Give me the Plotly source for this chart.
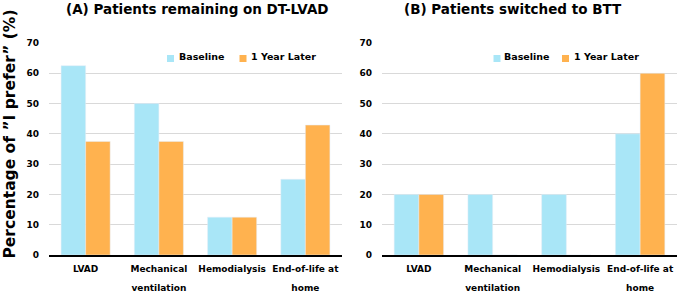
import plotly.graph_objects as go

categories = ["LVAD", "Mechanical ventilation", "Hemodialysis", "End-of-life at home"]
tick_lines = [["LVAD"], ["Mechanical", "ventilation"], ["Hemodialysis"], ["End-of-life at", "home"]]
a_baseline = [62.5, 50.0, 12.5, 25.0]
a_later = [37.5, 37.5, 12.5, 42.9]
b_baseline = [20.0, 20.0, 20.0, 40.0]
b_later = [20.0, 0.0, 0.0, 60.0]
y_ticks = [0, 10, 20, 30, 40, 50, 60, 70]
series_names = ["Baseline", "1 Year Later"]

BLUE = "#A9E6F7"
ORANGE = "#FFB24F"
W, H = 677, 291
FONT = "DejaVu Sans"

# tick labels: small text, but line spacing driven by a larger base font size
tick_labels = ["<br>".join('<span style="font-size:9px">%s</span>' % s for s in lines)
               for lines in tick_lines]

fig = go.Figure()
fig.add_trace(go.Bar(x=categories, y=a_baseline, name=series_names[0], marker_color=BLUE,
                     xaxis="x", yaxis="y"))
fig.add_trace(go.Bar(x=categories, y=a_later, name=series_names[1], marker_color=ORANGE,
                     xaxis="x", yaxis="y"))
fig.add_trace(go.Bar(x=categories, y=b_baseline, name=series_names[0], marker_color=BLUE,
                     xaxis="x2", yaxis="y2"))
fig.add_trace(go.Bar(x=categories, y=b_later, name=series_names[1], marker_color=ORANGE,
                     xaxis="x2", yaxis="y2"))

ydom = [36 / H, 248 / H]
xa = dict(tickmode="array", tickvals=categories, ticktext=tick_labels,
          tickfont=dict(family=FONT, size=14.6, color="black", weight="bold"),
          showline=True, linecolor="black", linewidth=2, ticks="", showgrid=False,
          ticklabelstandoff=-3, fixedrange=True, automargin=False, tickangle=0)
ya = dict(range=[0, 70], tickvals=y_ticks, showgrid=True, gridcolor="#D9D9D9", gridwidth=1,
          zeroline=False, showline=False, ticks="", automargin=False,
          tickfont=dict(family=FONT, size=9, color="black", weight="bold"),
          ticklabelstandoff=9, domain=ydom)

legfont = dict(family=FONT, size=9.5, color="black", weight="bold")

# manual legends (swatch + label) inside each panel
shapes = []
annotations = []
for sx, tx, color, name in [(167, 178, BLUE, series_names[0]), (239.5, 250, ORANGE, series_names[1]),
                            (493.5, 503, BLUE, series_names[0]), (562, 572.5, ORANGE, series_names[1])]:
    shapes.append(dict(type="rect", xref="paper", yref="paper",
                       x0=sx / W, x1=(sx + 7) / W, y0=(H - 62) / H, y1=(H - 55) / H,
                       fillcolor=color, line=dict(width=0)))
    annotations.append(dict(text=name, x=tx / W, y=(H - 57) / H, xref="paper", yref="paper",
                            showarrow=False, xanchor="left", yanchor="middle", font=legfont,
                            borderpad=0))

annotations += [
    dict(text="(A) Patients remaining on DT-LVAD", x=197 / W, y=(H - 9) / H,
         xref="paper", yref="paper", showarrow=False, xanchor="center", yanchor="middle",
         font=dict(family=FONT, size=13.5, color="black", weight="bold")),
    dict(text="(B) Patients switched to BTT", x=513 / W, y=(H - 9) / H,
         xref="paper", yref="paper", showarrow=False, xanchor="center", yanchor="middle",
         font=dict(family=FONT, size=13.5, color="black", weight="bold")),
    dict(text="Percentage of \u201dI prefer\u201d (%)", x=9 / W, y=(H - 134.5) / H,
         xref="paper", yref="paper", showarrow=False, xanchor="center", yanchor="middle",
         textangle=-90, font=dict(family=FONT, size=15.5, color="black", weight="bold")),
]

fig.update_layout(
    width=W, height=H, margin=dict(l=0, r=0, t=0, b=0, autoexpand=False),
    paper_bgcolor="white", plot_bgcolor="white",
    barmode="group", bargap=0.33, bargroupgap=0,
    xaxis=dict(domain=[49 / W, 342 / W], anchor="y", **xa),
    xaxis2=dict(domain=[382 / W, 1.0], anchor="y2", **xa),
    yaxis=dict(anchor="x", **ya),
    yaxis2=dict(anchor="x2", **ya),
    showlegend=False,
    shapes=shapes,
    annotations=annotations,
)

fig.write_html("out.html")
